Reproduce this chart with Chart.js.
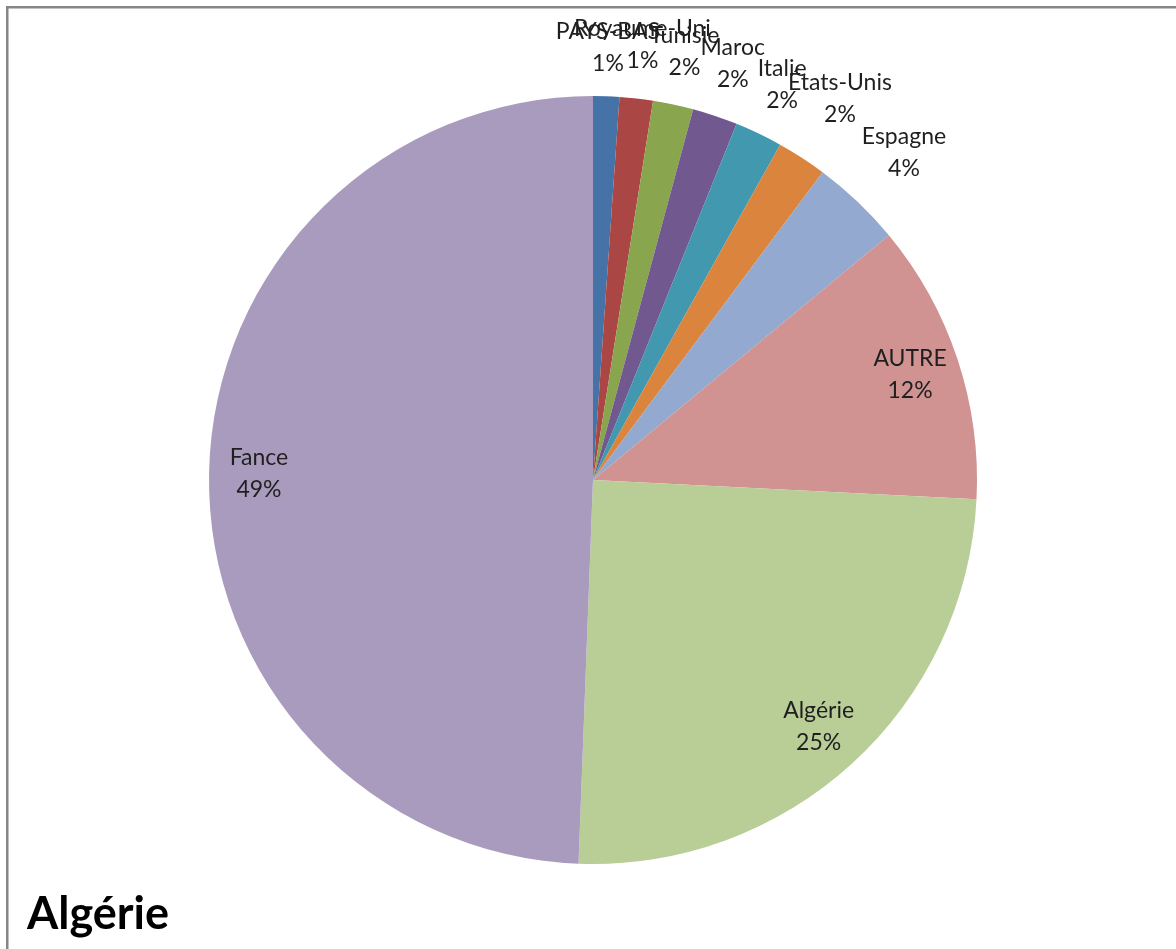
<!DOCTYPE html>
<html>
<head>
<meta charset="utf-8">
<script src="https://cdn.jsdelivr.net/npm/chart.js@4"></script>
<style>
html,body{margin:0;padding:0;background:#fff;}
#wrap{position:relative;width:1176px;height:949px;}
</style>
</head>
<body>
<div id="wrap"><canvas id="c" width="1176" height="949"></canvas></div>
<script>
const categories = ["PAYS-BAS","Royaume-Uni","Tunisie","Maroc","Italie","États-Unis","Espagne","AUTRE","Algérie","Fance"];
const values = [1.1, 1.4, 1.7, 1.9, 2.0, 2.1, 3.8, 11.8, 24.8, 49.4];
const colors = ["#4572A7","#AA4643","#89A54E","#71588F","#4198AF","#DB843D","#93A9CF","#D19392","#B9CD96","#A99BBD"];
const chartTitle = "Algérie";

const LABEL_FONT = '23px Lato';
const LINE_H = 32;

const framePlugin = {
  id: 'frame',
  beforeDraw(chart) {
    const ctx = chart.ctx;
    ctx.save();
    ctx.fillStyle = '#fff';
    ctx.fillRect(0, 0, chart.width, chart.height);
    ctx.strokeStyle = '#868686';
    ctx.lineWidth = 2.5;
    ctx.beginPath();
    ctx.moveTo(7.25, chart.height);
    ctx.lineTo(7.25, 7.25);
    ctx.lineTo(chart.width, 7.25);
    ctx.stroke();
    ctx.restore();
  },
  afterDraw(chart) {
    const ctx = chart.ctx;
    ctx.save();
    ctx.fillStyle = '#000';
    ctx.font = 'bold 45px Lato';
    ctx.textBaseline = 'alphabetic';
    ctx.textAlign = 'left';
    ctx.fillText(chartTitle, 27, 929);
    ctx.restore();
  }
};

const labelPlugin = {
  id: 'pieLabels',
  afterDatasetsDraw(chart) {
    const ctx = chart.ctx;
    const meta = chart.getDatasetMeta(0);
    const data = chart.data.datasets[0].data;
    const total = data.reduce((a, b) => a + b, 0);
    ctx.save();
    ctx.font = LABEL_FONT;
    ctx.fillStyle = '#1f1f1f';
    ctx.textAlign = 'center';
    ctx.textBaseline = 'middle';
    meta.data.forEach((arc, i) => {
      const p = arc.getProps(['x','y','startAngle','endAngle','outerRadius'], true);
      const mid = (p.startAngle + p.endAngle) / 2;
      const pct = data[i] / total;
      const l1 = chart.data.labels[i];
      const l2 = Math.round(pct * 100) + '%';
      const w = Math.max(ctx.measureText(l1).width, ctx.measureText(l2).width) / 2;
      const h = LINE_H;
      let d;
      if (pct >= 0.1) {
        d = p.outerRadius * 0.87;
      } else {
        d = p.outerRadius + 15 + Math.abs(Math.cos(mid)) * w + Math.abs(Math.sin(mid)) * h;
      }
      const cx = p.x + Math.cos(mid) * d;
      const cy = p.y + Math.sin(mid) * d;
      ctx.fillText(l1, cx, cy - LINE_H / 2);
      ctx.fillText(l2, cx, cy + LINE_H / 2);
    });
    ctx.restore();
  }
};

new Chart(document.getElementById('c'), {
  type: 'pie',
  data: {
    labels: categories,
    datasets: [{
      data: values,
      backgroundColor: colors,
      borderWidth: 0
    }]
  },
  options: {
    responsive: false,
    animation: false,
    layout: { padding: { top: 96, bottom: 85, left: 209, right: 199 } },
    plugins: {
      legend: { display: false },
      tooltip: { enabled: false },
      title: { display: false }
    }
  },
  plugins: [framePlugin, labelPlugin]
});
</script>
</body>
</html>
